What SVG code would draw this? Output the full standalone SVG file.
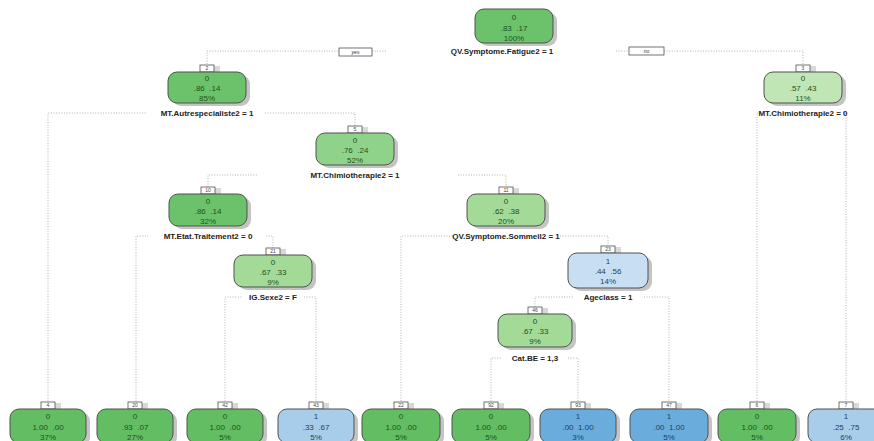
<svg xmlns="http://www.w3.org/2000/svg" width="874" height="441" viewBox="0 0 874 441">
  <defs>
    <style>
      .bg { fill: #ffffff; }
      .edge { fill: none; stroke: #a0a0a0; stroke-width: 0.8; stroke-dasharray: 1 1.6; }
      .shadow { fill: #c4c4c4; }
      .box { stroke: #505050; stroke-width: 1; }
      .g1 { fill: #63bd63; }
      .g2 { fill: #6cc26a; }
      .g3 { fill: #8fd38a; }
      .g4 { fill: #a3da98; }
      .g5 { fill: #bfe6b4; }
      .b1 { fill: #6aaddc; }
      .b2 { fill: #a8cdea; }
      .b3 { fill: #c8dff3; }
      .tab { fill: #ffffff; stroke: #505050; stroke-width: 0.8; }
      .tabsh { fill: #d8d8d8; }
      .num { font-family: "Liberation Sans", Arial, sans-serif; font-size: 5px; fill: #444; text-anchor: middle; }
      .t { font-family: "Liberation Sans", Arial, sans-serif; font-size: 8px; text-anchor: middle; white-space: pre; }
      .tg { fill: #1c521c; }
      .tb { fill: #1e3f66; }
      .lab { font-family: "Liberation Sans", Arial, sans-serif; font-size: 8px; font-weight: bold; fill: #222; text-anchor: middle; }
      .yn { fill: #ffffff; stroke: #505050; stroke-width: 0.8; }
      .ynt { font-family: "Liberation Sans", Arial, sans-serif; font-size: 5px; font-style: italic; fill: #333; text-anchor: middle; }
    </style>
  </defs>

  <rect class="bg" x="0" y="0" width="874" height="441"/>

  <!-- branch lines -->
  <g id="connectors">
    <path class="edge" d="M207,64 V51 H339 M372,51 H386 M616,51 H629 M664,51 H803 V64"/>
    <path class="edge" d="M48,409 V113 H146 M265,113 H355 V126"/>
    <path class="edge" d="M757,409 V113 H762 M843,113 H846 V409"/>
    <path class="edge" d="M208,187 V175 H258 M458,175 H506 V187"/>
    <path class="edge" d="M136,409 V236 H148 M266,236 H273 V248"/>
    <path class="edge" d="M225,409 V297 H242 M304,297 H316 V409"/>
    <path class="edge" d="M401,409 V236 H454 M560,236 H608 V246"/>
    <path class="edge" d="M535,307 V297 H574 M644,297 H669 V409"/>
    <path class="edge" d="M491,409 V358 H502 M568,358 H578 V409"/>
    <rect class="yn" x="339" y="48" width="33" height="8"/>
    <text class="ynt" x="355.5" y="54">yes</text>
    <rect class="yn" x="629" y="47" width="35" height="8"/>
    <text class="ynt" x="646.5" y="53">no</text>
  </g>

  <!-- root -->
  <g id="node1" transform="translate(514,9)">
    <rect class="shadow" x="-35" y="3" width="78" height="34" rx="9"/>
    <rect class="box g2" x="-39" y="0" width="78" height="34" rx="9"/>
    <text class="t tg" x="0" y="11">0</text>
    <text class="t tg" x="0" y="22">.83  .17</text>
    <text class="t tg" x="0" y="32">100%</text>
  </g>
  <text class="lab" x="502" y="54">QV.Symptome.Fatigue2 = 1</text>

  <g id="node2" transform="translate(207,72)">
    <rect class="tabsh" x="7" y="-6" width="6" height="6"/>
    <rect class="tab" x="-7" y="-7" width="14" height="7"/>
    <text class="num" x="0" y="-2">2</text>
    <rect class="shadow" x="-35" y="3" width="78" height="31" rx="9"/>
    <rect class="box g2" x="-39" y="0" width="78" height="31" rx="9"/>
    <text class="t tg" x="0" y="9">0</text>
    <text class="t tg" x="0" y="19">.86  .14</text>
    <text class="t tg" x="0" y="29">85%</text>
    <text class="lab" x="0" y="44">MT.Autrespecialiste2 = 1</text>
  </g>

  <g id="node3" transform="translate(803,72)">
    <rect class="tabsh" x="7" y="-6" width="6" height="6"/>
    <rect class="tab" x="-7" y="-7" width="14" height="7"/>
    <text class="num" x="0" y="-2">3</text>
    <rect class="shadow" x="-35" y="3" width="78" height="31" rx="9"/>
    <rect class="box g5" x="-39" y="0" width="78" height="31" rx="9"/>
    <text class="t tg" x="0" y="9">0</text>
    <text class="t tg" x="0" y="19">.57  .43</text>
    <text class="t tg" x="0" y="29">11%</text>
    <text class="lab" x="0" y="44">MT.Chimiotherapie2 = 0</text>
  </g>

  <g id="node5" transform="translate(355,133)">
    <rect class="tabsh" x="7" y="-6" width="6" height="6"/>
    <rect class="tab" x="-7" y="-7" width="14" height="7"/>
    <text class="num" x="0" y="-2">5</text>
    <rect class="shadow" x="-35" y="3" width="78" height="32" rx="9"/>
    <rect class="box g3" x="-39" y="0" width="78" height="32" rx="9"/>
    <text class="t tg" x="0" y="10">0</text>
    <text class="t tg" x="0" y="20">.76  .24</text>
    <text class="t tg" x="0" y="30">52%</text>
    <text class="lab" x="0" y="45">MT.Chimiotherapie2 = 1</text>
  </g>

  <g id="node10" transform="translate(208,194)">
    <rect class="tabsh" x="7" y="-6" width="6" height="6"/>
    <rect class="tab" x="-7" y="-7" width="14" height="7"/>
    <text class="num" x="0" y="-2">10</text>
    <rect class="shadow" x="-35" y="3" width="78" height="32" rx="9"/>
    <rect class="box g2" x="-39" y="0" width="78" height="32" rx="9"/>
    <text class="t tg" x="0" y="10">0</text>
    <text class="t tg" x="0" y="20">.86  .14</text>
    <text class="t tg" x="0" y="30">32%</text>
    <text class="lab" x="0" y="45">MT.Etat.Traitement2 = 0</text>
  </g>

  <g id="node11" transform="translate(506,194)">
    <rect class="tabsh" x="7" y="-6" width="6" height="6"/>
    <rect class="tab" x="-7" y="-7" width="14" height="7"/>
    <text class="num" x="0" y="-2">11</text>
    <rect class="shadow" x="-35" y="3" width="78" height="32" rx="9"/>
    <rect class="box g4" x="-39" y="0" width="78" height="32" rx="9"/>
    <text class="t tg" x="0" y="10">0</text>
    <text class="t tg" x="0" y="20">.62  .38</text>
    <text class="t tg" x="0" y="30">20%</text>
    <text class="lab" x="0" y="45">QV.Symptome.Sommeil2 = 1</text>
  </g>

  <g id="node21" transform="translate(273,255)">
    <rect class="tabsh" x="7" y="-6" width="6" height="6"/>
    <rect class="tab" x="-7" y="-7" width="14" height="7"/>
    <text class="num" x="0" y="-2">21</text>
    <rect class="shadow" x="-35" y="3" width="78" height="32" rx="9"/>
    <rect class="box g4" x="-39" y="0" width="78" height="32" rx="9"/>
    <text class="t tg" x="0" y="10">0</text>
    <text class="t tg" x="0" y="20">.67  .33</text>
    <text class="t tg" x="0" y="30">9%</text>
    <text class="lab" x="0" y="45">IG.Sexe2 = F</text>
  </g>

  <g id="node23" transform="translate(608,253)">
    <rect class="tabsh" x="7" y="-6" width="6" height="6"/>
    <rect class="tab" x="-7" y="-7" width="14" height="7"/>
    <text class="num" x="0" y="-2">23</text>
    <rect class="shadow" x="-36" y="3" width="80" height="35" rx="9"/>
    <rect class="box b3" x="-40" y="0" width="80" height="35" rx="9"/>
    <text class="t tb" x="0" y="11">1</text>
    <text class="t tb" x="0" y="21">.44  .56</text>
    <text class="t tb" x="0" y="31">14%</text>
    <text class="lab" x="0" y="47">Ageclass = 1</text>
  </g>

  <g id="node46" transform="translate(535,314)">
    <rect class="tabsh" x="7" y="-6" width="6" height="6"/>
    <rect class="tab" x="-7" y="-7" width="14" height="7"/>
    <text class="num" x="0" y="-2">46</text>
    <rect class="shadow" x="-33" y="3" width="74" height="33" rx="9"/>
    <rect class="box g4" x="-37" y="0" width="74" height="33" rx="9"/>
    <text class="t tg" x="0" y="10">0</text>
    <text class="t tg" x="0" y="20">.67  .33</text>
    <text class="t tg" x="0" y="30">9%</text>
    <text class="lab" x="0" y="47">Cat.BE = 1,3</text>
  </g>

  <!-- leaves -->
  <g id="leaf4" transform="translate(48,409)">
    <rect class="tabsh" x="7" y="-6" width="6" height="6"/>
    <rect class="tab" x="-7" y="-7" width="14" height="7"/>
    <text class="num" x="0" y="-2">4</text>
    <rect class="shadow" x="-34" y="3" width="76" height="34" rx="9"/>
    <rect class="box g1" x="-38" y="0" width="76" height="34" rx="9"/>
    <text class="t tg" x="0" y="10">0</text>
    <text class="t tg" x="0" y="21">1.00  .00</text>
    <text class="t tg" x="0" y="31">37%</text>
  </g>
  <g id="leaf20" transform="translate(135,409)">
    <rect class="tabsh" x="7" y="-6" width="6" height="6"/>
    <rect class="tab" x="-7" y="-7" width="14" height="7"/>
    <text class="num" x="0" y="-2">20</text>
    <rect class="shadow" x="-34" y="3" width="76" height="34" rx="9"/>
    <rect class="box g1" x="-38" y="0" width="76" height="34" rx="9"/>
    <text class="t tg" x="0" y="10">0</text>
    <text class="t tg" x="0" y="21">.93  .07</text>
    <text class="t tg" x="0" y="31">27%</text>
  </g>
  <g id="leaf42" transform="translate(225,409)">
    <rect class="tabsh" x="7" y="-6" width="6" height="6"/>
    <rect class="tab" x="-7" y="-7" width="14" height="7"/>
    <text class="num" x="0" y="-2">42</text>
    <rect class="shadow" x="-34" y="3" width="76" height="34" rx="9"/>
    <rect class="box g1" x="-38" y="0" width="76" height="34" rx="9"/>
    <text class="t tg" x="0" y="10">0</text>
    <text class="t tg" x="0" y="21">1.00  .00</text>
    <text class="t tg" x="0" y="31">5%</text>
  </g>
  <g id="leaf43" transform="translate(316,409)">
    <rect class="tabsh" x="7" y="-6" width="6" height="6"/>
    <rect class="tab" x="-7" y="-7" width="14" height="7"/>
    <text class="num" x="0" y="-2">43</text>
    <rect class="shadow" x="-34" y="3" width="76" height="34" rx="9"/>
    <rect class="box b2" x="-38" y="0" width="76" height="34" rx="9"/>
    <text class="t tb" x="0" y="10">1</text>
    <text class="t tb" x="0" y="21">.33  .67</text>
    <text class="t tb" x="0" y="31">5%</text>
  </g>
  <g id="leaf22" transform="translate(401,409)">
    <rect class="tabsh" x="7" y="-6" width="6" height="6"/>
    <rect class="tab" x="-7" y="-7" width="14" height="7"/>
    <text class="num" x="0" y="-2">22</text>
    <rect class="shadow" x="-35" y="3" width="78" height="34" rx="9"/>
    <rect class="box g1" x="-39" y="0" width="78" height="34" rx="9"/>
    <text class="t tg" x="0" y="10">0</text>
    <text class="t tg" x="0" y="21">1.00  .00</text>
    <text class="t tg" x="0" y="31">5%</text>
  </g>
  <g id="leaf92" transform="translate(491,409)">
    <rect class="tabsh" x="7" y="-6" width="6" height="6"/>
    <rect class="tab" x="-7" y="-7" width="14" height="7"/>
    <text class="num" x="0" y="-2">92</text>
    <rect class="shadow" x="-35" y="3" width="78" height="34" rx="9"/>
    <rect class="box g1" x="-39" y="0" width="78" height="34" rx="9"/>
    <text class="t tg" x="0" y="10">0</text>
    <text class="t tg" x="0" y="21">1.00  .00</text>
    <text class="t tg" x="0" y="31">5%</text>
  </g>
  <g id="leaf93" transform="translate(578,409)">
    <rect class="tabsh" x="7" y="-6" width="6" height="6"/>
    <rect class="tab" x="-7" y="-7" width="14" height="7"/>
    <text class="num" x="0" y="-2">93</text>
    <rect class="shadow" x="-34" y="3" width="76" height="34" rx="9"/>
    <rect class="box b1" x="-38" y="0" width="76" height="34" rx="9"/>
    <text class="t tb" x="0" y="10">1</text>
    <text class="t tb" x="0" y="21">.00  1.00</text>
    <text class="t tb" x="0" y="31">3%</text>
  </g>
  <g id="leaf47" transform="translate(669,409)">
    <rect class="tabsh" x="7" y="-6" width="6" height="6"/>
    <rect class="tab" x="-7" y="-7" width="14" height="7"/>
    <text class="num" x="0" y="-2">47</text>
    <rect class="shadow" x="-35" y="3" width="78" height="34" rx="9"/>
    <rect class="box b1" x="-39" y="0" width="78" height="34" rx="9"/>
    <text class="t tb" x="0" y="10">1</text>
    <text class="t tb" x="0" y="21">.00  1.00</text>
    <text class="t tb" x="0" y="31">5%</text>
  </g>
  <g id="leaf6" transform="translate(757,409)">
    <rect class="tabsh" x="7" y="-6" width="6" height="6"/>
    <rect class="tab" x="-7" y="-7" width="14" height="7"/>
    <text class="num" x="0" y="-2">6</text>
    <rect class="shadow" x="-35" y="3" width="78" height="34" rx="9"/>
    <rect class="box g1" x="-39" y="0" width="78" height="34" rx="9"/>
    <text class="t tg" x="0" y="10">0</text>
    <text class="t tg" x="0" y="21">1.00  .00</text>
    <text class="t tg" x="0" y="31">5%</text>
  </g>
  <g id="leaf7" transform="translate(846,409)">
    <rect class="tabsh" x="7" y="-6" width="6" height="6"/>
    <rect class="tab" x="-7" y="-7" width="14" height="7"/>
    <text class="num" x="0" y="-2">7</text>
    <rect class="shadow" x="-34" y="3" width="76" height="34" rx="9"/>
    <rect class="box b2" x="-38" y="0" width="76" height="34" rx="9"/>
    <text class="t tb" x="0" y="10">1</text>
    <text class="t tb" x="0" y="21">.25  .75</text>
    <text class="t tb" x="0" y="31">6%</text>
  </g>
</svg>
